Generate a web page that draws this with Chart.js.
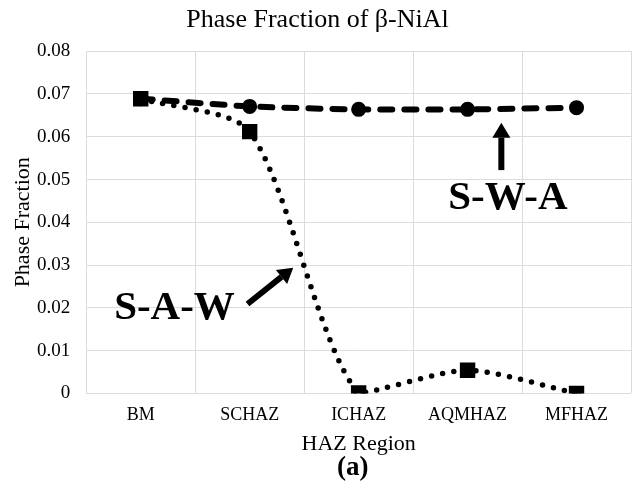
<!DOCTYPE html>
<html>
<head>
<meta charset="utf-8">
<script src="https://cdn.jsdelivr.net/npm/chart.js@4"></script>
<style>
  html, body { margin: 0; padding: 0; background: #fff; }
  #wrap { width: 633px; height: 489px; }
</style>
</head>
<body>
<div id="wrap"><canvas id="chart" width="633" height="489"></canvas></div>
<script>
// Regiones de la ZAC y fracción de fase β-NiAl
const regiones = ['BM', 'SCHAZ', 'ICHAZ', 'AQMHAZ', 'MFHAZ'];
const serieSAW = [0.0689, 0.0612, 0.0001, 0.0054, 0.0];
const serieSWA = [0.0689, 0.0671, 0.0664, 0.0664, 0.0668];
const ticksY = [0, 0.01, 0.02, 0.03, 0.04, 0.05, 0.06, 0.07, 0.08];

const fuente = "'Liberation Serif', 'Times New Roman', serif";

// Etiquetas y flechas dibujadas sobre el área del gráfico
const anotaciones = {
    id: 'anotaciones',
    afterDatasetsDraw(chart) {
        const ctx = chart.ctx;
        const x = chart.scales.x;
        const y = chart.scales.y;
        ctx.save();
        ctx.fillStyle = '#000';
        ctx.strokeStyle = '#000';
        ctx.font = 'bold 41px ' + fuente;
        ctx.textAlign = 'center';
        ctx.textBaseline = 'alphabetic';

        // S-W-A con flecha hacia arriba
        ctx.fillText('S-W-A', x.getPixelForValue(3.37), y.getPixelForValue(0.0431));
        flecha(ctx, x.getPixelForValue(3.31), y.getPixelForValue(0.0522),
                    x.getPixelForValue(3.31), y.getPixelForValue(0.0633));

        // S-A-W con flecha diagonal
        ctx.fillText('S-A-W', x.getPixelForValue(0.31), y.getPixelForValue(0.0174));
        flecha(ctx, x.getPixelForValue(0.98), y.getPixelForValue(0.0209),
                    x.getPixelForValue(1.40), y.getPixelForValue(0.0294));
        ctx.restore();
    },
    // rótulo (a) bajo el título del eje X
    afterDraw(chart) {
        const ctx = chart.ctx;
        const area = chart.chartArea;
        ctx.save();
        ctx.fillStyle = '#000';
        ctx.font = 'bold 27px ' + fuente;
        ctx.textAlign = 'center';
        ctx.textBaseline = 'middle';
        ctx.fillText('(a)', (area.left + area.right) / 2 - 6, chart.height - 21);
        ctx.restore();
    }
};

function flecha(ctx, x1, y1, x2, y2) {
    const ang = Math.atan2(y2 - y1, x2 - x1);
    const largo = 15, ancho = 9;
    const bx = x2 - largo * Math.cos(ang);
    const by = y2 - largo * Math.sin(ang);
    ctx.lineWidth = 6;
    ctx.lineCap = 'butt';
    ctx.beginPath();
    ctx.moveTo(x1, y1);
    ctx.lineTo(bx, by);
    ctx.stroke();
    ctx.beginPath();
    ctx.moveTo(x2, y2);
    ctx.lineTo(bx + ancho * Math.sin(ang), by - ancho * Math.cos(ang));
    ctx.lineTo(bx - ancho * Math.sin(ang), by + ancho * Math.cos(ang));
    ctx.closePath();
    ctx.fill();
}

const ctx = document.getElementById('chart').getContext('2d');
new Chart(ctx, {
    type: 'line',
    data: {
        labels: regiones,
        datasets: [
            {
                label: 'S-A-W',
                data: serieSAW,
                borderColor: '#000',
                backgroundColor: '#000',
                borderWidth: 5.5,
                borderDash: [0, 11.3],
                borderCapStyle: 'round',
                pointStyle: 'rect',
                pointRadius: 7,
                pointHoverRadius: 7,
                tension: 0.25,
                order: 1
            },
            {
                label: 'S-W-A',
                data: serieSWA,
                borderColor: '#000',
                backgroundColor: '#000',
                borderWidth: 6,
                borderDash: [12, 12],
                borderCapStyle: 'round',
                pointStyle: 'circle',
                pointRadius: 4.5,
                pointHoverRadius: 4.5,
                tension: 0.25,
                order: 2
            }
        ]
    },
    options: {
        responsive: false,
        animation: false,
        layout: { autoPadding: false, padding: { left: 4, right: 2, top: 0, bottom: 34 } },
        plugins: {
            legend: { display: false },
            tooltip: { enabled: false },
            title: {
                display: true,
                text: 'Phase Fraction of β-NiAl',
                color: '#000',
                font: { family: fuente, size: 26, weight: 'normal' },
                padding: { top: 5, bottom: 15 }
            }
        },
        scales: {
            x: {
                offset: true,
                // sin reserva extra a la derecha para la última etiqueta
                afterFit(scale) {
                    scale.paddingRight = 0;
                },
                grid: { offset: true, color: '#dcdcdc', lineWidth: 1, drawTicks: false },
                border: { display: false },
                ticks: {
                    color: '#000',
                    font: { family: fuente, size: 18 },
                    padding: 11
                },
                title: {
                    display: true,
                    text: 'HAZ Region',
                    color: '#000',
                    font: { family: fuente, size: 22, lineHeight: 1 },
                    padding: { top: -4, bottom: 0 }
                }
            },
            y: {
                min: 0,
                max: 0.08,
                afterBuildTicks(axis) {
                    axis.ticks = ticksY.map(v => ({ value: v }));
                },
                grid: { color: '#dcdcdc', lineWidth: 1, drawTicks: false },
                border: { display: false },
                ticks: {
                    color: '#000',
                    font: { family: fuente, size: 19 },
                    padding: 16,
                    callback: v => (v === 0 ? '0' : v.toFixed(2))
                },
                title: {
                    display: true,
                    text: 'Phase Fraction',
                    color: '#000',
                    font: { family: fuente, size: 22, lineHeight: 1 },
                    padding: { top: 8, bottom: -13 }
                }
            }
        }
    },
    plugins: [anotaciones]
});
</script>
</body>
</html>
